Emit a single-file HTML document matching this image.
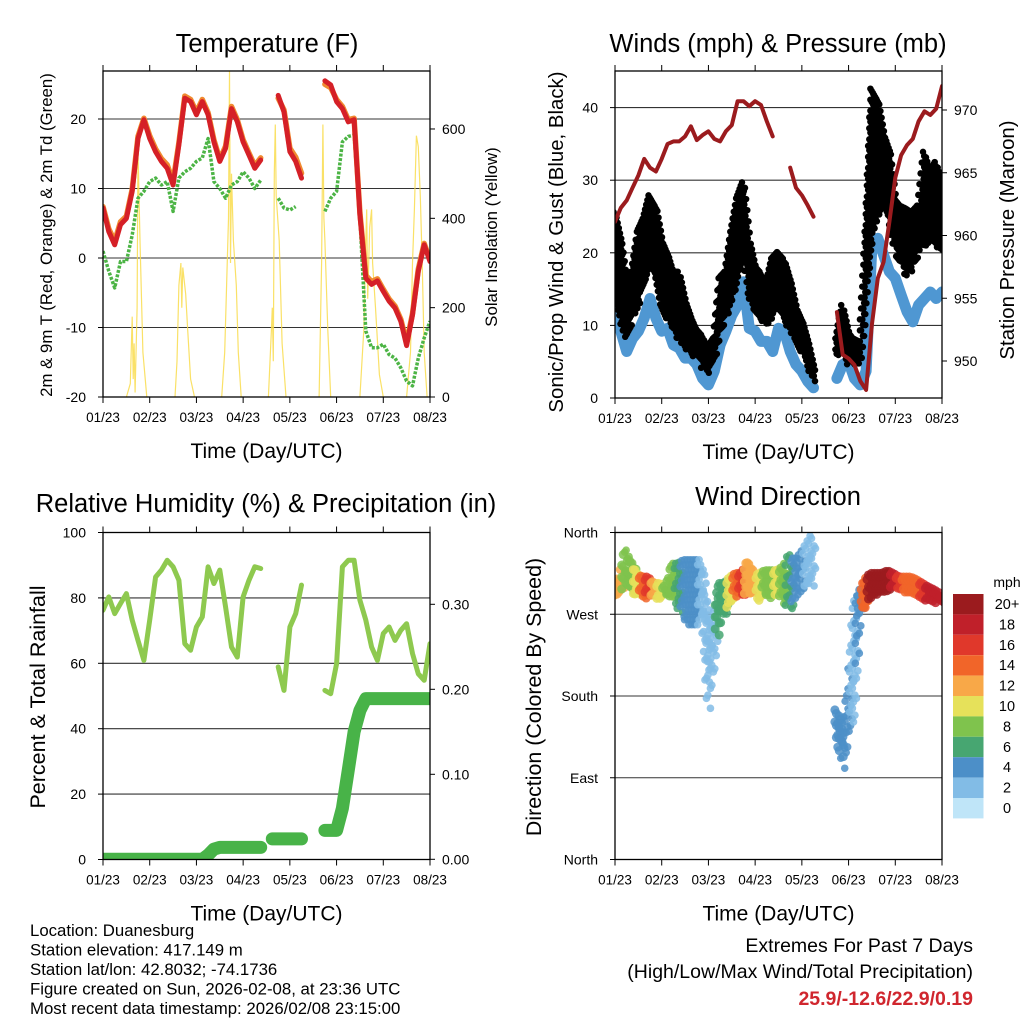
<!DOCTYPE html>
<html><head><meta charset="utf-8"><style>
html,body{margin:0;padding:0;background:#fff;}
svg{display:block;font-family:"Liberation Sans",Arial,sans-serif;}
</style></head><body>
<svg id="chart" width="1024" height="1024" viewBox="0 0 1024 1024" xmlns="http://www.w3.org/2000/svg">
<defs>
<clipPath id="c1"><rect x="103" y="71" width="327" height="326"/></clipPath>
<clipPath id="c2"><rect x="615" y="71" width="327" height="327"/></clipPath>
<clipPath id="c3"><rect x="103" y="532.5" width="327" height="327"/></clipPath>
<clipPath id="c4"><rect x="615" y="532.5" width="327" height="327"/></clipPath>
</defs>
<g id="layer"></g>
</svg>
<script>
// ---- data (3-hour steps from 01/23, 57 points) ----
const dayLabels = ["01/23","02/23","03/23","04/23","05/23","06/23","07/23","08/23"];
const tempRed = [7.2,3.8,1.9,4.8,5.7,9.6,17.2,19.9,17.2,15.3,13.9,12.9,10.5,16.3,23,22.5,20.6,22.5,20.6,16.7,13.9,15.8,21.5,19.6,16.7,14.8,12.9,14.1,null,null,23.4,21,15.3,13.9,11.5,null,null,null,25.5,24.9,22.5,21.5,19.6,19.9,6.2,-2.9,-3.8,-3.3,-4.8,-6.2,-7.2,-9.1,-12.6,-8.2,-1.9,1.9,-0.5];
const tempOrange = [7.4,4.2,2.4,5.2,6.0,9.9,17.5,20.1,17.6,15.7,14.3,13.4,11.0,16.6,23.3,22.8,21.0,22.8,20.9,17.0,14.2,16.1,21.8,19.9,17.0,15.1,13.3,14.4,null,null,23.0,21.3,15.8,14.5,12.2,null,null,null,25.0,24.5,22.8,21.8,19.9,20.1,6.5,-2.5,-3.4,-3.0,-4.5,-5.9,-6.9,-8.8,-12.2,-8.0,-1.6,2.1,-0.3];
const dewGreen = [1.0,-1.9,-4.3,-0.5,-0.5,3.3,8.6,9.6,11,11.5,10.5,11,6.7,11.5,12.4,12.9,13.9,14.4,17.2,11,10,8.6,10.5,11,12.4,11.5,10,11.2,null,null,8.6,7.2,6.9,7.4,null,null,null,null,6.7,8.6,9.6,16.7,17.5,17.7,5.7,-10.5,-12.9,-12.9,-12.4,-13.9,-14.4,-15.8,-17.7,-18.4,-14.4,-11.5,-9.1];
const solarHours = [12,14,15,15.5,16,16.5,17.5,18,19,20.5,22.5, 37,38,39,40,40.5,41,42.5,43.5,45,47, 61,62.5,63.5,64.5,65,65.5,66,67,68.5,69.5,71, 85,86.5,87,87.5,88,88.5,89,90.5,92,94, 111,112.3,113,113.5,114,115.5,117, 132,134,135,135.5,136,137,138,138.5,140,142,144, 156,158,159,160,161,162,163,164,165,166.5];
const solarVals = [0,30,180,40,120,10,200,550,350,100,0, 0,80,250,300,200,290,230,150,40,0, 0,100,250,400,730,300,500,350,250,100,0, 0,150,200,80,500,610,450,350,120,0, 0,300,610,400,350,150,0, 0,150,350,420,220,380,420,300,200,50,0, 0,100,300,420,585,560,450,300,100,0];
const windSpeed = [12.4,9.2,6.4,8.2,9.2,11,13.7,11,9.2,9.6,7.3,6.9,5.5,5.5,4.6,2.7,1.8,3.7,7.3,9.2,11.4,12.8,16,9.6,9.2,7.8,7.8,6.4,9.6,9.2,6.4,4.6,3.7,2.3,1.4,null,null,null,2.7,4.6,5,2.7,1.8,3.7,21,22,19.7,17.4,16.5,14.2,11.9,10.5,12.8,13.7,14.6,13.7,14.6];
const gustHigh = [25.6,22,16,17.4,22.9,24.7,27.9,26.5,22,20.1,17.4,17.4,13.7,11.4,9.6,8.7,6.9,8.2,16.5,17.4,22.9,27.5,29.7,22,18.3,17.4,15.6,19.2,20.1,19.2,16.5,12.8,11,8.2,4.6,null,null,null,8.2,12.8,9.2,8.2,7.8,22.9,42.6,41.2,36.6,34.3,27.5,26.5,26.1,25.6,26.5,33.9,31,32.5,29.7];
const gustLow = [15.6,10,7.8,11,12.8,16,18.3,16.5,12.8,11,9.2,7.8,6.9,5.9,5.5,4.1,3.2,4.6,9.2,11,13.7,16.5,20.1,13.7,11.9,11,10,11,11.9,11,9.2,7.8,6.4,4.6,2.3,null,null,null,5.5,6.4,4.6,4.6,4.1,13.7,22.9,25.2,26.1,23.8,20.1,18.3,16.5,17.9,20.1,20.6,22,21,20.1];
const pressure = [961.1,962.2,962.8,963.8,964.8,966.1,965.4,965.1,966.1,967.3,967.5,967.5,967.9,968.7,967.6,968,968.3,967.7,967.5,968.3,968.8,970.7,970.7,970.3,970.7,970.4,969.1,967.9,null,null,965.4,963.8,963.2,962.4,961.5,null,null,null,953.9,950.5,950.2,949.7,948.4,947.7,952.9,956.6,957.9,961.1,964.6,966.4,967.2,967.7,969.1,969.9,969.6,970.1,971.9];
const relHum = [76.2,80.3,75.2,78.3,81.3,73.2,67,60.9,73.2,86.4,88.5,91.5,89.5,85.4,66,64,71.1,74.2,89.5,84.4,88.5,77.2,65,61.9,80.3,85.4,89.5,89,null,null,58.9,51.7,71.1,75.2,83.9,null,null,null,51.7,50.7,59.9,89.5,91.5,91.5,79.3,73.2,65,60.9,69.1,71.1,67,70.1,72.1,63,56.8,54.8,66];
const precip = [0,0,0,0,0,0,0,0,0,0,0,0,0,0,0,0,0,0,0.005,0.012,0.014,0.014,0.014,0.014,0.014,0.014,0.014,0.014,null,0.024,0.024,0.024,0.024,0.024,0.024,null,null,null,0.034,0.034,0.034,0.06,0.105,0.15,0.175,0.189,0.189,0.189,0.189,0.189,0.189,0.189,0.189,0.189,0.189,0.189,0.189];
const dirHigh = [302,311,344,330,315,311,311,304,304,300,326,326,330,330,330,330,271,263,304,304,311,315,315,330,311,315,318,318,318,322,337,330,337,348,359,null,null,null,168,139,186,282,293,308,315,315,315,318,315,311,311,311,308,304,300,297,293];
const dirLow = [289,293,300,293,289,285,293,289,285,289,289,267,263,256,256,260,164,219,271,271,282,293,289,293,293,285,293,285,293,285,271,282,297,300,300,null,null,null,139,98,142,160,271,278,289,293,293,297,300,297,293,293,289,285,285,282,282];
const dirSpeed = [12,11,7,7,9,13,15,12,9,8,7,5,4,4,3,2,2,1,6,6,9,13,15,12,11,9,7,7,9,8,6,4,4,2,2,null,null,null,4,4,3,2,4,14,20,21,20,19,18,15,14,14,14,16,17,17,18];
const speedBins = ["0","2","4","6","8","10","12","14","16","18","20+"];
const speedColors = ["#bfe5f8","#82bce6","#4c8fc8","#47a671","#7fc34d","#e6e15a","#f8a848","#f16529","#e0382b","#c0202a","#9b1b1e"];
const tempTicks = [-20,-10,0,10,20];
const solarTicks = [0,200,400,600];
const windTicks = [0,10,20,30,40];
const presTicks = [950,955,960,965,970];
const rhTicks = [0,20,40,60,80,100];
const precTicks = [0,0.1,0.2,0.3];
const dirTicks = [0,90,180,270,360];
const dirNames = ["North","East","South","West","North"];

const NS="http://www.w3.org/2000/svg";
const layer=document.getElementById('layer');
function mk(tag,attrs,parent){const e=document.createElementNS(NS,tag);for(const k in attrs)e.setAttribute(k,attrs[k]);(parent||layer).appendChild(e);return e;}
function txt(s,x,y,size,anchor,parent,extra){const e=mk('text',Object.assign({x:x,y:y,'font-size':size,'text-anchor':anchor||'middle',fill:'#000'},extra||{}),parent);e.textContent=s;return e;}

const L={x0:103,x1:430}, R={x0:615,x1:942};
function xs(P){return t=>P.x0+t*(P.x1-P.x0)/7;}
const tY=v=>258-v*6.95, sY=v=>397-v*0.4467;
const wY=v=>398-v*7.26, pY=p=>361-(p-950)*12.55;
const rY=v=>859.5-v*3.27, qY=v=>859.3-v*850;
const dY=d=>859.5-d*327/360;
const stepT=k=>k*0.125;

function segs(arr){const out=[];let cur=[];arr.forEach((v,k)=>{if(v===null){if(cur.length)out.push(cur);cur=[];}else cur.push(k);});if(cur.length)out.push(cur);return out;}
function linePath(arr,X,Y){let d='';segs(arr).forEach(s=>{s.forEach((k,i)=>{d+=(i?'L':'M')+X(stepT(k)).toFixed(1)+','+Y(arr[k]).toFixed(1);});});return d;}

function frame(P,yT,yB,name){
  const g=mk('g',{});
  
  
  mk('rect',{x:P.x0,y:yT,width:P.x1-P.x0,height:yB-yT,fill:'none',stroke:'#000','stroke-width':1.3},g);
  const X=xs(P);
  dayLabels.forEach((lab,i)=>{const x=X(i);
    mk('line',{x1:x,x2:x,y1:yT,y2:yT-6,stroke:'#000'},g);
    mk('line',{x1:x,x2:x,y1:yB,y2:yB+6,stroke:'#000'},g);
    const t=txt(lab,x,yB+25,13.5,'middle',g);
    
    
  });
  const xt=txt('Time (Day/UTC)',(P.x0+P.x1)/2,yB+61,21,'middle',g);
  
  
}
function grid(P,vals,Y,g){vals.forEach(v=>mk('line',{x1:P.x0,x2:P.x1,y1:Y(v),y2:Y(v),stroke:'#333','stroke-width':1.1},g));}
function leftTicks(P,vals,Y,fmt,g){vals.forEach((v,i)=>{mk('line',{x1:P.x0,x2:P.x0-5,y1:Y(v),y2:Y(v),stroke:'#000'},g);const t=txt(fmt(v,i),P.x0-17,Y(v)+5,14,'end',g);});}
function rightTicks(P,vals,Y,fmt,g){vals.forEach((v,i)=>{mk('line',{x1:P.x1,x2:P.x1+5,y1:Y(v),y2:Y(v),stroke:'#000'},g);const t=txt(fmt(v,i),P.x1+12,Y(v)+5,14,'start',g);});}
function vtitle(s,x,y,size,name){const t=txt(s,x,y,size,'middle',layer,{transform:'rotate(-90 '+x+' '+y+')'});}
function title(s,x,y,name){const t=txt(s,x,y,25.5,'middle');}

// ===== Panel 1: temperature =====
(function(){
  const X=xs(L);
  const g=mk('g',{'clip-path':'url(#c1)'});
  
  
  grid(L,[-10,0,10,20],tY,g);
  let d='';solarHours.forEach((h,i)=>{d+=(i&&solarHours[i-1]<h-2?'M':(i?'L':'M'))+X(h/24).toFixed(1)+','+sY(solarVals[i]).toFixed(1);});
  const sp=mk('path',{d:d,fill:'none',stroke:'#f9dc4c','stroke-width':1.2,opacity:0.85},g);
  
  
  const gp=mk('path',{d:linePath(dewGreen,X,tY),fill:'none',stroke:'#4cb445','stroke-width':3.5,'stroke-dasharray':'3 1.5','stroke-linejoin':'round'},g);
  
  
  const op=mk('path',{d:linePath(tempOrange,X,tY),fill:'none',stroke:'#f08a30','stroke-width':5.5,'stroke-linejoin':'round','stroke-linecap':'round'},g);
  
  
  const rp=mk('path',{d:linePath(tempRed,X,tY),fill:'none',stroke:'#d52027','stroke-width':5,'stroke-linejoin':'round','stroke-linecap':'round'},g);
  
  
  const a=mk('g',{});
  leftTicks(L,tempTicks,tY,v=>String(v),a);
  rightTicks(L,solarTicks,sY,v=>String(v),a);
  frame(L,71,397,'temperature');
  title('Temperature (F)',267,52,'temperature-title');
  vtitle('2m & 9m T (Red, Orange) & 2m Td (Green)',52,235,16.8,'temperature-y-title');
  vtitle('Solar Insolation (Yellow)',497,237,16.8,'solar-y-title');
})();

// ===== Panel 2: winds & pressure =====
(function(){
  const X=xs(R);
  const g=mk('g',{'clip-path':'url(#c2)'});
  
  
  grid(R,[10,20,30,40],wY,g);
  const bp=mk('path',{d:linePath(windSpeed,X,wY),fill:'none',stroke:'#4f97d2','stroke-width':11,'stroke-linejoin':'round','stroke-linecap':'round'},g);
  
  
  let gd='';
  segs(gustHigh).forEach(s=>{
    for(let i=0;i<s.length;i++){const k=s[i];const last=i===s.length-1;
      for(let f=0;f<(last?0.01:1);f+=0.2){
        const k2=last?k:k+1;
        const hv=gustHigh[k]+(gustHigh[k2]-gustHigh[k])*f, lv=gustLow[k]+(gustLow[k2]-gustLow[k])*f;
        const x=X(stepT(k+f)), y1=wY(hv), y2=wY(lv);
        let n=0;
        for(let y=y1;y<=y2+0.1;y+=5.5){gd+='M'+(x+((n++)%2?1.5:-1.5)).toFixed(1)+','+y.toFixed(1)+'h0.01';}
      }}
  });
  const gp=mk('path',{d:gd,fill:'none',stroke:'#000','stroke-width':6.5,'stroke-linecap':'round'},g);
  
  
  const pp=mk('path',{d:linePath(pressure,X,pY),fill:'none',stroke:'#9b1b1e','stroke-width':4,'stroke-linejoin':'round','stroke-linecap':'round'},g);
  
  
  const a=mk('g',{});
  leftTicks(R,windTicks,wY,v=>String(v),a);
  rightTicks(R,presTicks,pY,v=>String(v),a);
  frame(R,71,398,'winds');
  title('Winds (mph) & Pressure (mb)',778,52,'winds-title');
  vtitle('Sonic/Prop Wind & Gust (Blue, Black)',563,242,20.4,'winds-y-title');
  vtitle('Station Pressure (Maroon)',1014,240,20.4,'pressure-y-title');
})();

// ===== Panel 3: RH & precip =====
(function(){
  const X=xs(L);
  const g=mk('g',{'clip-path':'url(#c3)'});
  
  
  grid(L,[20,40,60,80],rY,g);
  const hp=mk('path',{d:linePath(relHum,X,rY),fill:'none',stroke:'#8ec94f','stroke-width':5,'stroke-linejoin':'round','stroke-linecap':'round'},g);
  
  
  const qp=mk('path',{d:linePath(precip,X,qY),fill:'none',stroke:'#48b348','stroke-width':13,'stroke-linejoin':'round','stroke-linecap':'round'},g);
  
  
  const a=mk('g',{});
  leftTicks(L,rhTicks,rY,v=>String(v),a);
  rightTicks(L,precTicks,qY,v=>v.toFixed(2),a);
  frame({x0:103,x1:430},532.5,859.5,'humidity');
  title('Relative Humidity (%) & Precipitation (in)',266,512,'humidity-title');
  vtitle('Percent & Total Rainfall',45,697,21.5,'humidity-y-title');
})();

// ===== Panel 4: wind direction =====
(function(){
  const X=xs(R);
  const g=mk('g',{'clip-path':'url(#c4)'});
  
  
  grid(R,[90,180,270],dY,g);
  const colorOf=s=>speedColors[Math.max(0,Math.min(10,Math.round(s/2)))];
  segs(dirHigh).forEach(s=>{
    let col=0;
    for(let i=0;i<s.length;i++){const k=s[i];const last=i===s.length-1;
      for(let f=0;f<(last?0.01:1);f+=0.25){
        const k2=last?k:k+1;
        const hv=dirHigh[k]+(dirHigh[k2]-dirHigh[k])*f, lv=dirLow[k]+(dirLow[k2]-dirLow[k])*f;
        const sp=f<0.5?dirSpeed[k]:dirSpeed[k2];
        const x=X(stepT(k+f)), y1=dY(hv), y2=dY(lv);
        const wide=(y2-y1)>35, gap=wide?10:6;
        let n=0; col++;
        for(let y=y1+(col%2?gap/2:0);y<=y2+0.1;y+=gap){
          const c=mk('circle',{cx:x+((n++)%2?2:-2),cy:y,r:wide?3.8:4.5,fill:colorOf(sp),opacity:0.85},g);
          
          
        }
      }}
  });
  const a=mk('g',{});
  leftTicks(R,dirTicks,dY,(v,i)=>dirNames[i],a);
  frame(R,532.5,859.5,'wind-direction');
  title('Wind Direction',778,505,'wind-direction-title');
  vtitle('Direction (Colored By Speed)',541,697,21.4,'wind-direction-y-title');
  const lg=mk('g',{});
  
  
  txt('mph',1007,587,14,'middle',lg);
  for(let i=0;i<11;i++){const idx=10-i;const y=594+i*20.4;
    const r=mk('rect',{x:953,y:y,width:30.5,height:20.4,fill:speedColors[idx]},lg);
    
    
    const t=txt(speedBins[idx],1007,y+15,14.5,'middle',lg);
    
    
  }
})();

// ===== footer text =====
(function(){
  const info=["Location: Duanesburg","Station elevation: 417.149 m","Station lat/lon: 42.8032; -74.1736","Figure created on Sun, 2026-02-08, at 23:36 UTC","Most recent data timestamp: 2026/02/08 23:15:00"];
  const g=mk('g',{});
  
  
  info.forEach((s,i)=>txt(s,30,936+i*19.5,16.8,'start',g));
  const e=mk('g',{});
  
  
  txt('Extremes For Past 7 Days',973,952,19.5,'end',e);
  txt('(High/Low/Max Wind/Total Precipitation)',973,978,19.5,'end',e);
  txt('25.9/-12.6/22.9/0.19',973,1005,19.5,'end',e,{fill:'#d0262e','font-weight':'bold'});
})();
</script>
</body></html>
